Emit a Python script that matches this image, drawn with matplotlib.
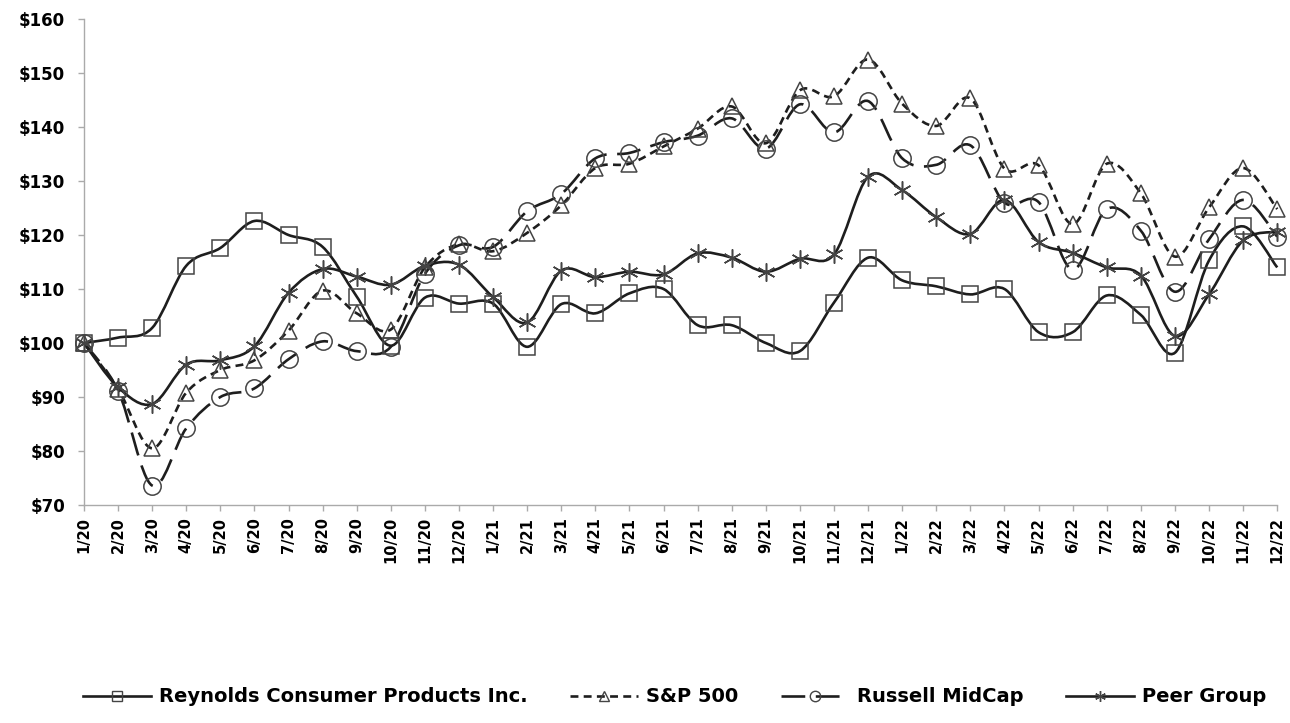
import numpy as np
import matplotlib.pyplot as plt
from matplotlib.path import Path
from matplotlib.patches import PathPatch
from matplotlib.lines import Line2D

plt.rcParams['font.family'] = ['DejaVu Sans']
plt.rcParams['font.weight'] = 'bold'

# ---- data ----
months = ['1/20', '2/20', '3/20', '4/20', '5/20', '6/20', '7/20', '8/20', '9/20', '10/20', '11/20', '12/20',
          '1/21', '2/21', '3/21', '4/21', '5/21', '6/21', '7/21', '8/21', '9/21', '10/21', '11/21', '12/21',
          '1/22', '2/22', '3/22', '4/22', '5/22', '6/22', '7/22', '8/22', '9/22', '10/22', '11/22', '12/22']

reynolds = [100, 101, 102.8, 114.3, 117.6, 122.6, 120, 117.8, 108.6, 99.5, 108.4, 107.3,
            107.3, 99.3, 107.2, 105.5, 109.2, 110, 103.3, 103.3, 100, 98.5, 107.5, 115.8,
            111.6, 110.5, 109, 110, 102, 102, 108.8, 105.2, 98.2, 115.3, 121.6, 114]

sp500 = [100, 91.5, 80.5, 90.8, 95, 96.8, 102.3, 109.7, 105.5, 102.5, 114, 118.3,
         117, 120.4, 125.5, 132.4, 133.2, 136.4, 139.7, 143.8, 137, 146.8, 145.7, 152.5,
         144.3, 140.2, 145.3, 132.3, 132.9, 122, 133.2, 127.7, 116, 125.1, 132.4, 124.8]

russell = [100, 91.2, 73.6, 84.2, 90, 91.6, 97, 100.3, 98.5, 99.3, 112.8, 118.1,
           117.8, 124.4, 127.6, 134.2, 135.2, 137.2, 138.4, 141.6, 136, 144.2, 139, 144.8,
           134.2, 133, 136.6, 126, 126.1, 113.6, 124.8, 120.8, 109.5, 119.2, 126.5, 119.7]

peer = [100, 91.8, 88.7, 96, 96.8, 99.4, 109.3, 113.7, 112.3, 110.8, 114.3, 114.5,
        108.5, 103.8, 113.4, 112.2, 113.2, 112.7, 116.6, 115.8, 113.2, 115.6, 116.4, 130.8,
        128.3, 123.3, 120.2, 126.5, 118.7, 116.7, 114, 112.5, 101.3, 109, 119, 120.6]

labels = ['Reynolds Consumer Products Inc.', 'S&P 500', 'Russell MidCap', 'Peer Group']


def smooth_path(xs, ys):
    """Excel-style smoothed line: cubic Bezier segments through every point"""
    pts = np.column_stack([xs, ys]).astype(float)
    n = len(pts)
    verts = [pts[0]]
    codes = [Path.MOVETO]
    for i in range(n - 1):
        p0 = pts[max(i - 1, 0)]
        p1 = pts[i]
        p2 = pts[i + 1]
        p3 = pts[min(i + 2, n - 1)]
        c1 = p1 + (p2 - p0) / 6.0
        c2 = p2 - (p3 - p1) / 6.0
        verts += [c1, c2, p2]
        codes += [Path.CURVE4] * 3
    return Path(verts, codes)


fig = plt.figure(figsize=(12.9, 7.23), dpi=100)
ax = fig.add_axes([0.0651, 0.3015, 0.925, 0.6722])

x = np.arange(len(months))
line_col = '#1e1e1e'
mk_col = '#444444'

series = [
    (reynolds, '-', 's', 12),
    (sp500, (0, (3, 2)), '^', 11.5),
    (russell, (0, (9, 4)), 'o', 12.5),
    (peer, '-', (6, 2, 0), 13),
]

handles = []
for (vals, ls, mk, ms), lab in zip(series, labels):
    patch = PathPatch(smooth_path(x, vals), fill=False, edgecolor=line_col,
                      linewidth=1.9, linestyle=ls, zorder=3, clip_on=False)
    ax.add_patch(patch)
    ax.plot(x, vals, linestyle='none', marker=mk, markersize=ms, clip_on=False,
            markerfacecolor='none', markeredgecolor=mk_col, markeredgewidth=1.1, zorder=4)
    handles.append(Line2D([], [], color=line_col, linewidth=1.9, linestyle=ls, marker=mk,
                          markersize=ms * 0.6, markerfacecolor='none',
                          markeredgecolor=mk_col, markeredgewidth=1.0, label=lab))

ax.set_xlim(0, 35)
ax.set_ylim(70, 160)
ax.set_yticks(np.arange(70, 161, 10))
ax.set_yticklabels([f'${v}' for v in range(70, 161, 10)], fontsize=12, fontweight='bold')
ax.set_xticks(x)
ax.set_xticklabels(months, rotation=90, fontsize=10.5, fontweight='bold')

for side in ['top', 'right']:
    ax.spines[side].set_visible(False)
for side in ['left', 'bottom']:
    ax.spines[side].set_color('#aaaaaa')
    ax.spines[side].set_linewidth(1.0)
ax.tick_params(axis='y', color='#aaaaaa', length=4.5, width=1.0, pad=9)
ax.tick_params(axis='x', color='#aaaaaa', length=4.5, width=1.0, pad=4)

fig.legend(handles=handles, loc='center', bbox_to_anchor=(0.523, 0.036), ncol=4,
           frameon=False, handlelength=3.5, columnspacing=2.2, handletextpad=0.4,
           prop={'weight': 'bold', 'size': 14})

fig.savefig('out.png', dpi=100)
